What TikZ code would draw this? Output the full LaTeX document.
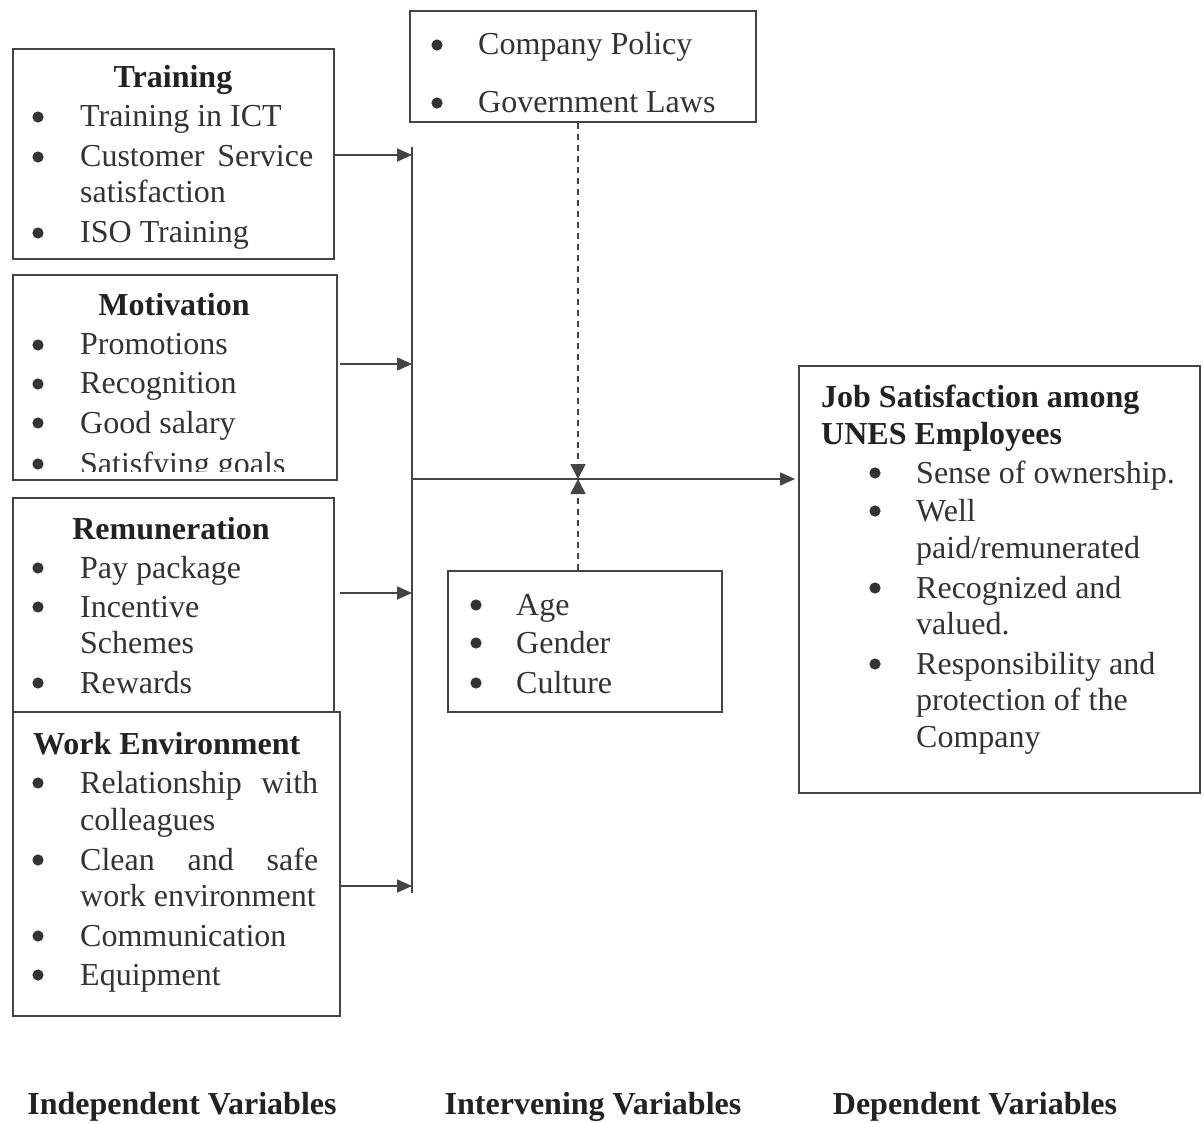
\documentclass[tikz,border=0pt]{standalone}
\usepackage{fontspec}
\setmainfont{Liberation Serif}
\usetikzlibrary{arrows.meta}
\definecolor{ink}{HTML}{333333}
\definecolor{hink}{HTML}{222222}
\definecolor{linec}{HTML}{444444}
\newcommand\bulletat[2]{\fill[ink] (#1,#2-7) circle[radius=5.6pt];}
\begin{document}
\begin{tikzpicture}[x=1pt,y=-1pt,
  box/.style={draw=linec, line width=1.8pt, inner sep=0pt, anchor=north west},
  txt/.style={anchor=base west, inner sep=0pt, yshift=-3pt, text=ink, font=\fontsize{32}{38}\selectfont},
  hd/.style={anchor=base, inner sep=0pt, yshift=-3pt, text=hink, font=\fontsize{32}{38}\selectfont\bfseries},
  hdl/.style={hd, anchor=base west},
  conn/.style={draw=linec, line width=1.8pt},
  arr/.style={conn, -{Triangle[length=15pt,width=13pt]}},
  dsh/.style={draw=linec, line width=1.8pt, dash pattern=on 6pt off 5pt, -{Triangle[length=15pt,width=15pt]}}
]
\useasboundingbox (0,0) rectangle (1203,1123);
\fill[white] (0,0) rectangle (1203,1123);

% ---------- boxes ----------
\node[box, minimum width=321pt, minimum height=210pt] (train) at (12,48) {};
\node[box, minimum width=324pt, minimum height=205pt] (motiv) at (12,274) {};
\node[box, minimum width=321pt, minimum height=214pt] (remun) at (12,497) {};
\node[box, minimum width=327pt, minimum height=304pt] (work) at (12,711) {};
\node[box, minimum width=346pt, minimum height=111pt] (top) at (409,10) {};
\node[box, minimum width=274pt, minimum height=141pt] (inter) at (447,570) {};
\node[box, minimum width=401pt, minimum height=427pt] (job) at (798,365) {};

% ---------- Training ----------
\node[hd] (trainh) at (173,85) {Training};
\bulletat{38}{124}\node[txt] (t1) at (80,124) {Training in ICT};
\bulletat{38}{164}\node[txt] (t2) at (80,164) {\makebox[233pt][s]{Customer Service}};
\node[txt] (t2b) at (80,200) {satisfaction};
\bulletat{38}{240}\node[txt] (t3) at (80,240) {ISO Training};

% ---------- Motivation ----------
\node[hd] (motivh) at (174,313) {Motivation};
\bulletat{38}{352}\node[txt] (m1) at (80,352) {Promotions};
\bulletat{38}{391}\node[txt] (m2) at (80,391) {Recognition};
\bulletat{38}{430}\node[txt] (m3) at (80,430) {Good salary};
\begin{scope}
\clip (14,440) rectangle (334,471);
\bulletat{38}{471}\node[txt] (m4) at (80,471) {Satisfying goals};
\end{scope}

% ---------- Remuneration ----------
\node[hd] (remunh) at (171,536) {Remuneration};
\bulletat{38}{575}\node[txt] (r1) at (80,575) {Pay package};
\bulletat{38}{614}\node[txt] (r2) at (80,614) {Incentive};
\node[txt] (r2b) at (80,650) {Schemes};
\bulletat{38}{690}\node[txt] (r3) at (80,690) {Rewards};

% ---------- Work Environment ----------
\node[hdl] (workh) at (33,751) {Work Environment};
\bulletat{38}{790}\node[txt] (w1) at (80,790) {\makebox[238pt][s]{Relationship with}};
\node[txt] (w1b) at (80,827) {colleagues};
\bulletat{38}{867}\node[txt] (w2) at (80,867) {\makebox[238pt][s]{Clean and safe}};
\node[txt] (w2b) at (80,903) {work environment};
\bulletat{38}{943}\node[txt] (w3) at (80,943) {Communication};
\bulletat{38}{982}\node[txt] (w4) at (80,982) {Equipment};

% ---------- Top (intervening) ----------
\bulletat{437}{52}\node[txt] (p1) at (478,52) {Company Policy};
\bulletat{437}{110}\node[txt] (p2) at (478,110) {Government Laws};

% ---------- Age box ----------
\bulletat{476}{612}\node[txt] (a1) at (516,612) {Age};
\bulletat{476}{650}\node[txt] (a2) at (516,650) {Gender};
\bulletat{476}{690}\node[txt] (a3) at (516,690) {Culture};

% ---------- Job satisfaction ----------
\node[hdl] (jobh1) at (821,404) {Job Satisfaction among};
\node[hdl] (jobh2) at (821,441) {UNES Employees};
\bulletat{875}{480}\node[txt] (j1) at (916,480) {Sense of ownership.};
\bulletat{875}{518}\node[txt] (j2) at (916,518) {Well};
\node[txt] (j2b) at (916,555) {paid/remunerated};
\bulletat{875}{595}\node[txt] (j3) at (916,595) {Recognized and};
\node[txt] (j3b) at (916,631) {valued.};
\bulletat{875}{671}\node[txt] (j4) at (916,671) {Responsibility and};
\node[txt] (j4b) at (916,707) {protection of the};
\node[txt] (j4c) at (916,744) {Company};

% ---------- bottom labels ----------
\node[hd] (lab1) at (182,1111) {Independent Variables};
\node[hd] (lab2) at (593,1111) {Intervening Variables};
\node[hd] (lab3) at (975,1111) {Dependent Variables};

% ---------- connectors ----------
\coordinate (bustop) at (412,147);
\coordinate (busbot) at (412,893);
\coordinate (b1) at (412,155);
\coordinate (b2) at (412,364);
\coordinate (b3) at (412,593);
\coordinate (b4) at (412,886);
\coordinate (bc) at (412,479);
\coordinate (mid) at (578,479);

\draw[conn] (bustop) -- (busbot);
\draw[arr] (train.east |- b1) -- (b1);
\draw[arr] ([xshift=2pt]motiv.east |- b2) -- (b2);
\draw[arr] ([xshift=5pt]remun.east |- b3) -- (b3);
\draw[arr] (work.east |- b4) -- (b4);
\draw[arr, shorten >=3pt] (bc) -- (job.west |- bc);
\draw[dsh] (top.south -| mid) -- (mid);
\draw[dsh] (inter.north -| mid) -- (mid);
\end{tikzpicture}
\end{document}
